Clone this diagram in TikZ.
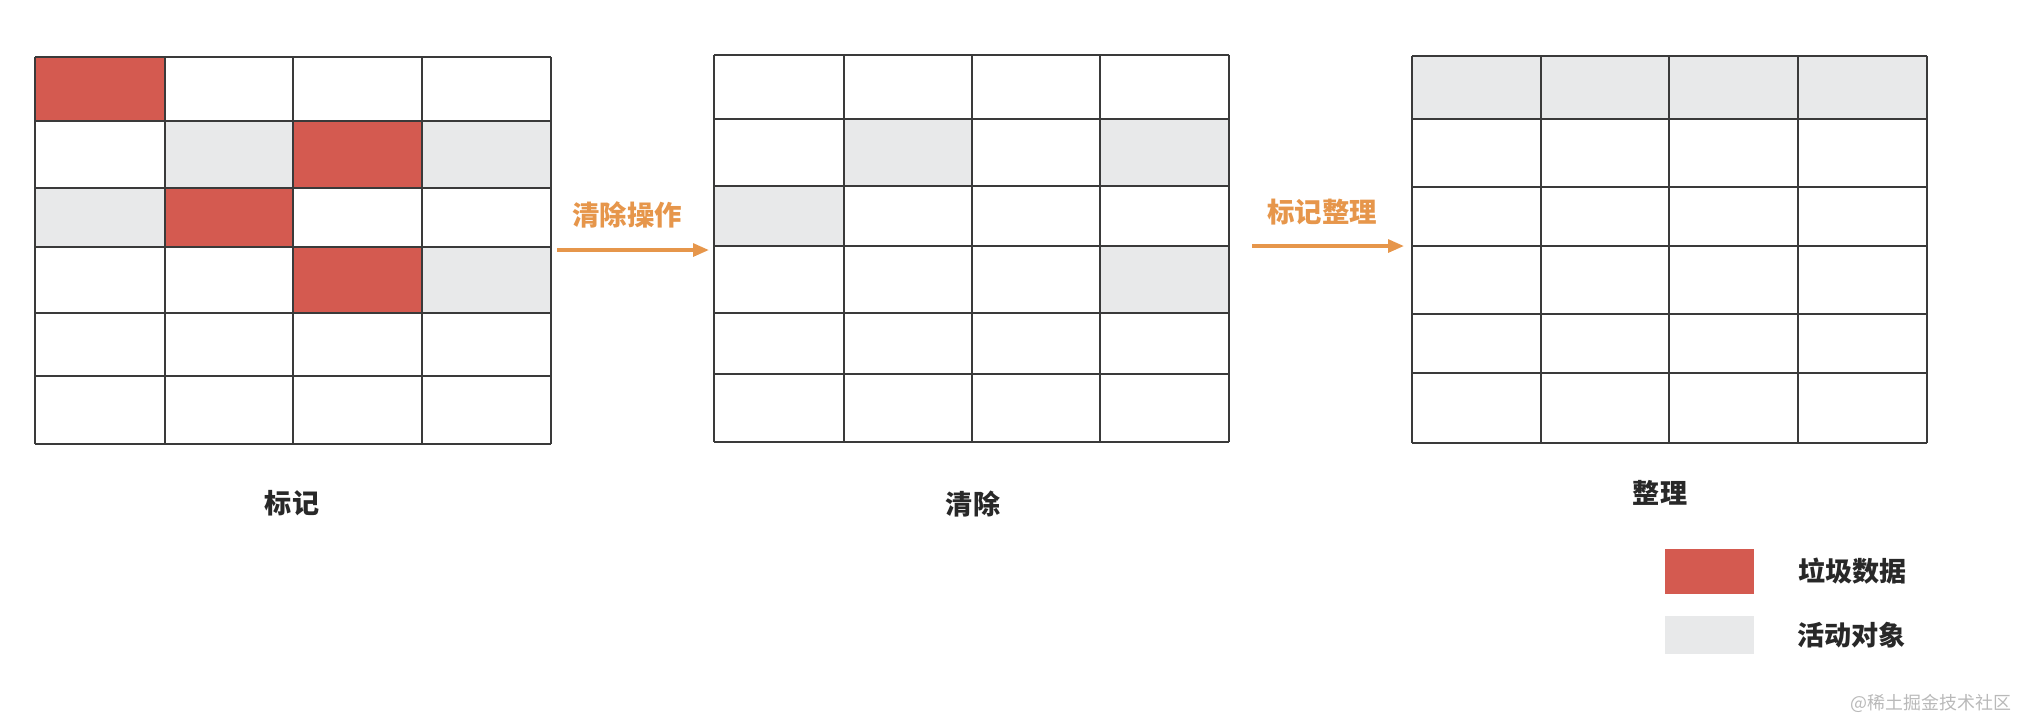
\documentclass[tikz,border=0pt]{standalone}
\usepackage{fontspec}
\setmainfont{Noto Sans CJK SC}
\usepackage{tikz}
\usetikzlibrary{arrows.meta, positioning}
\usepackage{xcolor}
\definecolor{garbage}{RGB}{212,90,80}
\definecolor{alive}{RGB}{232,233,234}
\definecolor{opcolor}{RGB}{230,150,75}
\definecolor{gridcol}{RGB}{58,58,58}
\definecolor{textdark}{RGB}{40,40,40}
\definecolor{markgray}{RGB}{185,185,185}

\begin{document}
\begin{tikzpicture}[
  x=0.01cm, y=-0.01cm,
  gridline/.style={draw=gridcol, line width=0.6pt},
  caption/.style={font=\fontsize{7.7pt}{9pt}\selectfont\bfseries, text=textdark, inner sep=0pt},
  oplabel/.style={font=\fontsize{7.8pt}{9pt}\selectfont\bfseries, text=opcolor, inner sep=0pt},
  keybox/.style={rectangle, minimum width=0.89cm, minimum height=0.45cm, inner sep=0pt},
  flow/.style={draw=opcolor, line width=1pt, -{Triangle[length=4.5pt, width=3.6pt]}}
]
\useasboundingbox (0,0) rectangle (2018,720);

% Cells: mark
\fill[garbage] (35,57) rectangle (165,121);
\fill[garbage] (293,121) rectangle (422,188);
\fill[garbage] (165,188) rectangle (293,247);
\fill[garbage] (293,247) rectangle (422,313);
\fill[alive] (165,121) rectangle (293,188);
\fill[alive] (422,121) rectangle (551,188);
\fill[alive] (35,188) rectangle (165,247);
\fill[alive] (422,247) rectangle (551,313);

% Cells: sweep
\fill[alive] (844,119) rectangle (972,186);
\fill[alive] (1100,119) rectangle (1229,186);
\fill[alive] (714,186) rectangle (844,246);
\fill[alive] (1100,246) rectangle (1229,313);

% Cells: compact
\fill[alive] (1412,56) rectangle (1927,119);

% Grids
\foreach \x in {35,165,293,422,551} \draw[gridline] (\x,57) -- (\x,444);
\foreach \y in {57,121,188,247,313,376,444} \draw[gridline] (35,\y) -- (551,\y);
\foreach \x in {714,844,972,1100,1229} \draw[gridline] (\x,55) -- (\x,442);
\foreach \y in {55,119,186,246,313,374,442} \draw[gridline] (714,\y) -- (1229,\y);
\foreach \x in {1412,1541,1669,1798,1927} \draw[gridline] (\x,56) -- (\x,443);
\foreach \y in {56,119,187,246,314,373,443} \draw[gridline] (1412,\y) -- (1927,\y);

% Nodes
\node[caption] (mark) at (292,503) {标记};
\node[caption] (sweep) at (973,504) {清除};
\node[caption] (compact) at (1660,493) {整理};
\node[oplabel] (sweeplbl) at (627,215) {清除操作};
\node[oplabel] (compactlbl) at (1322,212) {标记整理};
\coordinate (sweepfrom) at (557,250);
\coordinate (sweepto) at (709,250);
\coordinate (compactfrom) at (1252,246);
\coordinate (compactto) at (1404,246);

% Legend
\node[keybox, fill=garbage] (keytrash) at (1709.5,571.5) {};
\node[keybox, fill=alive, minimum height=0.38cm, below=0.21cm of keytrash] (keylive) {};
\node[caption, right=0.43cm of keytrash] (trashtxt) {垃圾数据};
\node[caption, right=0.42cm of keylive] (livetxt) {活动对象};
\node[font=\fontsize{5.1pt}{6pt}\selectfont, text=markgray, anchor=east, inner sep=0pt] (credit) at (2012,703) {@稀土掘金技术社区};

% Connections
\draw[flow] (sweepfrom) -- (sweepto);
\draw[flow] (compactfrom) -- (compactto);

\end{tikzpicture}
\end{document}
